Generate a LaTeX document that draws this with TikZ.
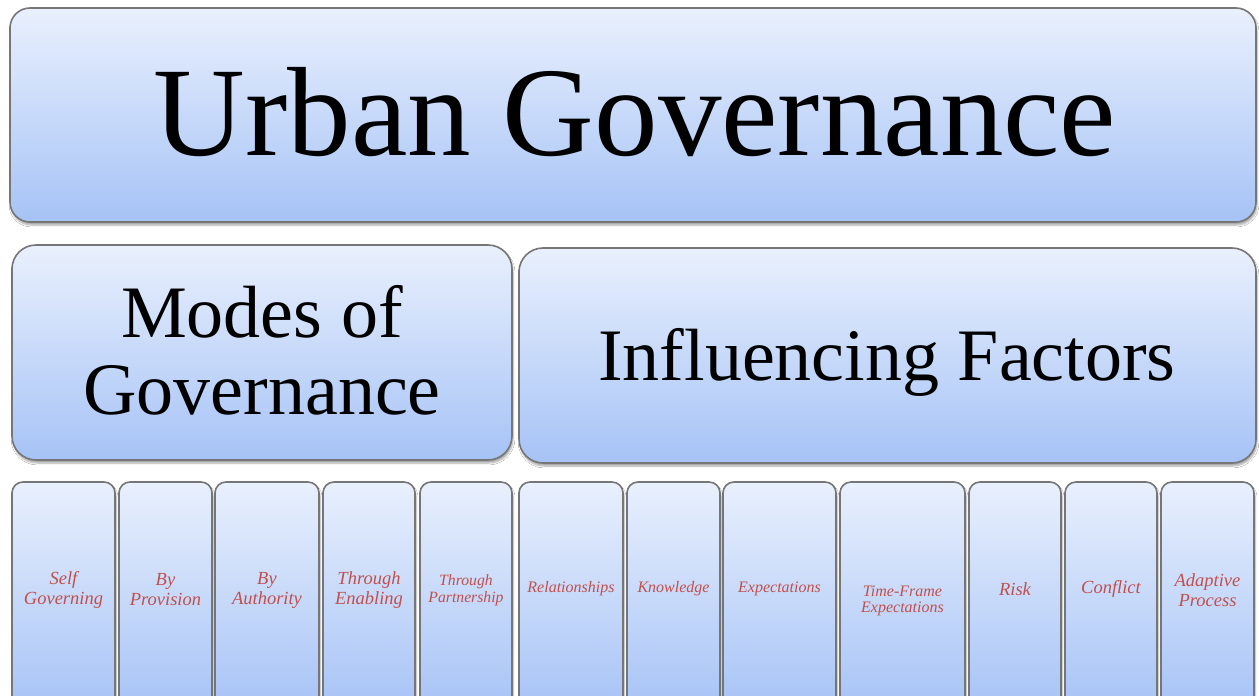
\documentclass[tikz,border=0pt]{standalone}
\usepackage{fontspec}
\setmainfont{Liberation Serif}
\usetikzlibrary{shadows.blur}

\definecolor{paneltop}{RGB}{233,240,253}
\definecolor{panelbottom}{RGB}{166,195,246}
\definecolor{panelline}{RGB}{118,118,118}
\definecolor{factorred}{RGB}{192,80,77}

\tikzset{
  panel/.style={draw=panelline, line width=1.6pt, rounded corners=20pt,
    top color=paneltop, bottom color=panelbottom,
    blur shadow={shadow xshift=1pt, shadow yshift=-3pt, shadow opacity=35, shadow blur steps=6}},
  slot/.style={panel, rounded corners=11pt},
  heading/.style={align=center, inner sep=0pt, text=black},
  factor/.style={align=center, inner sep=0pt, text=factorred,
    font=\itshape\fontsize{18.5}{20}\selectfont},
  smallfactor/.style={factor, font=\itshape\fontsize{16}{16}\selectfont}
}

\begin{document}
\begin{tikzpicture}[x=1pt, y=-1pt]
\useasboundingbox (0,0) rectangle (1259,696);
\fill[white] (0,0) rectangle (1259,696);

% Title row
\draw[panel] (10,8) rectangle (1256,222);
\node[heading, font=\fontsize{127}{130}\selectfont, anchor=base] (title) at (635,155) {Urban Governance};

% Middle row
\draw[panel, rounded corners=24pt] (12,245) rectangle (512,460);
\node[heading, font=\fontsize{74}{77}\selectfont] (modes) at (262,350) {Modes of\\Governance};
\draw[panel, rounded corners=24pt] (519,248) rectangle (1256,463);
\node[heading, font=\fontsize{74}{77}\selectfont, anchor=base] (factors) at (887,380) {Influencing Factors};

% Bottom row: modes
\draw[slot] (12,482) rectangle (115,710);
\node[factor] (selfgov) at (63.5,590) {Self\\Governing};
\draw[slot] (119,482) rectangle (212,710);
\node[factor] (provision) at (165.5,590) {By\\Provision};
\draw[slot] (215,482) rectangle (319,710);
\node[factor] (authority) at (267,590) {By\\Authority};
\draw[slot] (323,482) rectangle (415,710);
\node[factor] (enabling) at (369,590) {Through\\Enabling};
\draw[slot] (420,482) rectangle (512,710);
\node[smallfactor, font=\itshape\fontsize{15.7}{17}\selectfont] (partnership) at (466,590) {Through\\Partnership};

% Bottom row: factors
\draw[slot] (519,482) rectangle (623,710);
\node[smallfactor] (relations) at (571,589) {Relationships};
\draw[slot] (627,482) rectangle (720,710);
\node[smallfactor] (knowledge) at (673.5,589) {Knowledge};
\draw[slot] (723,482) rectangle (836,710);
\node[smallfactor] (expect) at (779.5,589) {Expectations};
\draw[slot] (840,482) rectangle (965,710);
\node[smallfactor] (timeframe) at (902.5,601) {Time-Frame\\Expectations};
\draw[slot] (969,482) rectangle (1061,710);
\node[factor] (risk) at (1015,589) {Risk};
\draw[slot] (1065,482) rectangle (1157,710);
\node[factor] (conflict) at (1111,589) {Conflict};
\draw[slot] (1161,482) rectangle (1254,710);
\node[factor] (adaptive) at (1207.5,590) {Adaptive\\Process};
\end{tikzpicture}
\end{document}
